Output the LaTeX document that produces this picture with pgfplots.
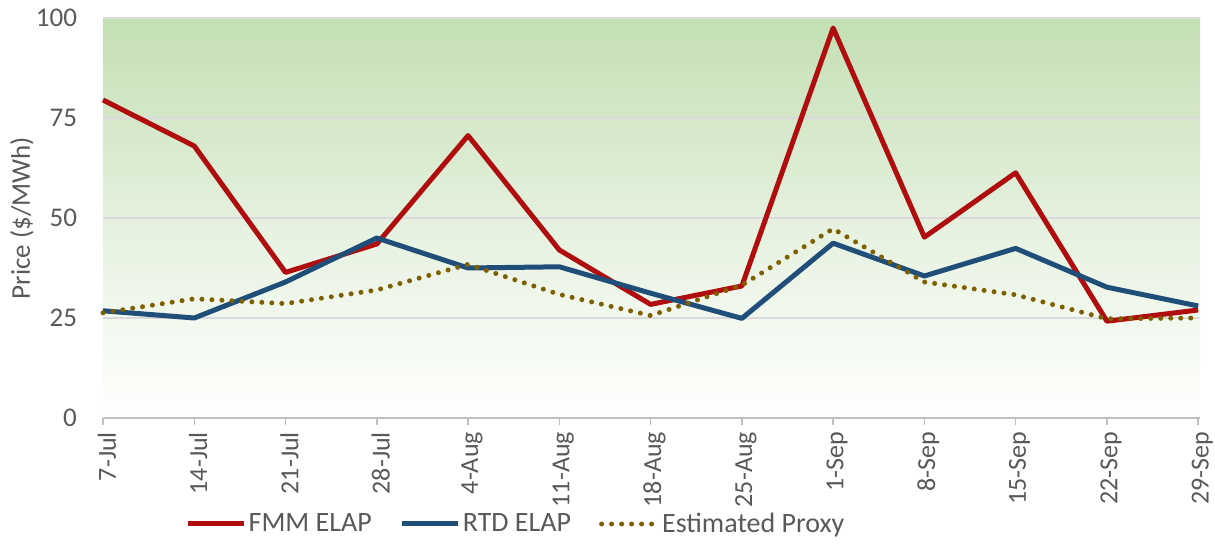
\documentclass[border=0pt]{standalone}
\usepackage{pgfplots}
\pgfplotsset{compat=1.18}
\usepackage{fontspec}
\setmainfont{Carlito}
\definecolor{fmm}{RGB}{176,14,14}
\definecolor{rtd}{RGB}{31,78,121}
\definecolor{prx}{RGB}{127,96,0}
\definecolor{txt}{RGB}{89,89,89}
\definecolor{topgreen}{RGB}{196,223,180}
\definecolor{gridc}{RGB}{217,217,222}
\definecolor{axc}{RGB}{191,191,191}
\begin{document}
\begin{tikzpicture}
\begin{axis}[
  at={(0,0)}, anchor=south west,
  scale only axis, width=548.5pt, height=200pt,
  xmin=0, xmax=12.02, ymin=0, ymax=100,
  axis background/.style={shade, top color=topgreen, bottom color=white, middle color=topgreen!45!white},
  axis x line*=bottom, axis y line*=left,
  y axis line style={draw=none},
  x axis line style={draw=axc, line width=0.75pt},
  xtick={0,...,12},
  xticklabels={7-Jul,14-Jul,21-Jul,28-Jul,4-Aug,11-Aug,18-Aug,25-Aug,1-Sep,8-Sep,15-Sep,22-Sep,29-Sep},
  xticklabel style={rotate=90, anchor=east, font=\fontsize{13}{15}\selectfont, text=txt, yshift=-2pt},
  x tick style={draw=axc, line width=0.75pt},
  major tick length=3.5pt, tick align=outside,
  ytick={0,25,50,75,100},
  y tick style={draw=none},
  yticklabel style={font=\fontsize{13.5}{15}\selectfont, text=txt, xshift=-6pt},
  /pgf/number format/assume math mode=true,
  ymajorgrids, grid style={draw=gridc, line width=0.75pt},
  ylabel={Price (\$/MWh)},
  every axis y label/.style={at={(axis description cs:-0.074,0.5)}, rotate=90, anchor=center, font=\fontsize{13.5}{15}\selectfont, text=txt},
  legend columns=3,
  legend cell align=left,
  legend style={draw=none, fill=none, at={(0.075,-0.265)}, anchor=west, font=\fontsize{14}{16}\selectfont, text=txt,
    /tikz/every even column/.append style={column sep=12pt},
    /tikz/every odd column/.append style={column sep=-1pt}, inner sep=0pt},
  legend image code/.code={\draw[#1] (0pt,0pt) -- (28pt,0pt);},
  clip=false,
]
\addplot[fmm, line width=2.5pt, line join=round] coordinates {
(0,79.5) (1,68.0) (2,36.4) (3,43.5) (4,70.6) (5,42.0) (6,28.4) (7,33.0) (8,97.5) (9,45.2) (10,61.3) (11,24.2) (12,27.0)};
\addlegendentry{FMM ELAP}
\addplot[rtd, line width=2.5pt, line join=round] coordinates {
(0,26.8) (1,25.0) (2,34.0) (3,45.0) (4,37.5) (5,37.8) (6,31.2) (7,24.9) (8,43.7) (9,35.5) (10,42.4) (11,32.7) (12,28.0)};
\addlegendentry{RTD ELAP}
\addplot[prx, line width=2.5pt, line cap=round, dash pattern=on 0pt off 5pt] coordinates {
(0,26.3) (1,29.8) (2,28.6) (3,32.0) (4,38.4) (5,30.9) (6,25.6) (7,33.2) (8,47.3) (9,34.0) (10,30.8) (11,24.8) (12,25.0)};
\addlegendentry{Estimated Proxy}
\end{axis}
\pgfresetboundingbox
\path (-51.5pt,-63pt) rectangle (556pt,209pt);
\end{tikzpicture}
\end{document}
